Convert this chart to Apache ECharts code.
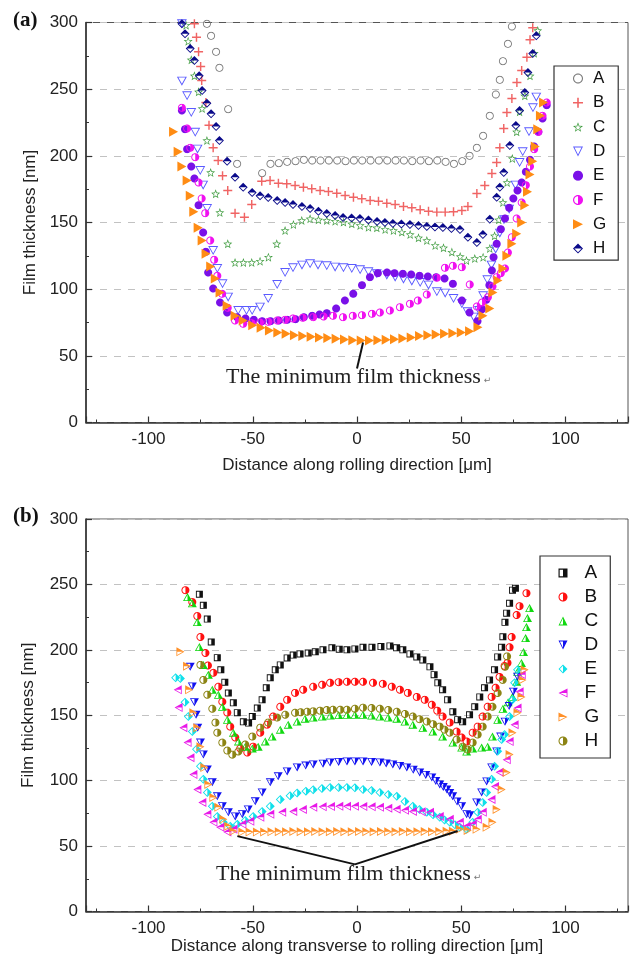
<!DOCTYPE html>
<html>
<head>
<meta charset="utf-8">
<title>Film thickness</title>
<script src="https://cdn.jsdelivr.net/npm/echarts@6/dist/echarts.min.js"></script>
<style>
  html, body { margin: 0; padding: 0; background: #fff; }
  #chart { width: 630px; height: 960px; }
</style>
</head>
<body>
<div id="chart"></div>
<script>
var names = ['A', 'B', 'C', 'D', 'E', 'F', 'G', 'H'];

// (a) along rolling direction: [distance um, film thickness nm]
var rollA = [[-72,299],[-70,290],[-67.6,278],[-66,266],[-61.8,235],[-57.5,194],[-45.5,187],[-41.5,194],[-37.5,194.5],[-33.5,195.5],[-29.5,196],[-25.5,197],[-21.5,196.5],[-17.5,196.5],[-13.5,196.5],[-9.5,196.5],[-5.5,196],[-1.5,196.5],[2.5,196.5],[6.5,196.5],[10.5,196.5],[14.5,196.5],[18.5,196.5],[22.5,196.5],[26.5,196],[30.5,196.5],[34.5,196],[38.5,196.5],[42.5,195.5],[46.5,194],[50.5,196],[54,200],[57.5,206],[60.5,215],[63.7,230],[66.6,246],[68.5,257],[70,271],[72.4,284],[74.3,297]];
var rollB = [[-78,299],[-77,289],[-76,278],[-75,267],[-74.5,256.5],[-72.5,240],[-71,223],[-69,206],[-66.6,196.5],[-64.5,185],[-62,174],[-58.5,157],[-54,154],[-50.5,163.5],[-45.7,181],[-41.7,181.5],[-37.7,179.5],[-33.7,179],[-29.7,177.8],[-25.7,176.5],[-21.7,175.3],[-17.7,174],[-13.7,173.3],[-9.7,172],[-5.7,170.3],[-1.7,169],[2.3,167.8],[6.3,166.5],[10.3,166],[14.3,164.5],[18.3,163.5],[22.3,162],[26.3,161],[30.3,159.5],[34.3,158.5],[38.3,157.8],[42.3,157.8],[46.3,158],[50.3,159],[53.2,162],[57.5,171.8],[61.3,177.8],[64.7,186.8],[67,195],[68.5,206],[70.4,220.5],[71.9,232.5],[74.3,243],[76.7,255],[79,264],[81.5,274],[83,287],[84.3,296]];
var rollC = [[-82,298],[-81,286],[-79.5,272],[-78,260],[-76,248],[-74.3,235.5],[-72,211.5],[-70.2,187.5],[-67.8,171.5],[-65.8,157.5],[-62,134],[-58.5,120],[-54.5,120],[-50.5,120],[-46.5,121],[-42.5,124],[-38.5,134],[-34.5,144],[-30.5,148.5],[-26.5,151.5],[-22.5,152.8],[-18.5,152],[-14.5,151.5],[-10.5,151],[-6.5,150.3],[-2.5,149],[1.5,147.8],[5.5,146.5],[9.5,146],[13.5,144.8],[17.5,144],[21.5,142.8],[25.5,141],[29.5,138.5],[33.5,136.5],[37.5,132.8],[41.5,131],[45.5,127.8],[49.5,124.5],[52.5,121.5],[56.5,123],[60.5,124],[63.7,130.5],[66,140],[68,152],[70,165],[72,180],[74.5,198],[76.6,218],[78,233],[80.5,245],[83,260],[85,277],[86.7,294]];
var rollD = [[-84,299],[-84,256],[-81.5,245],[-79.5,232.5],[-77.6,217.6],[-76.5,205],[-75.2,189],[-73.8,178],[-71.9,160.5],[-69,129],[-67,115.5],[-64.5,104],[-61.8,94],[-57,84],[-53,84],[-50.3,84],[-46.5,86.5],[-42.6,93],[-38.3,103.5],[-34.5,112.5],[-30.7,116],[-26.4,118],[-22.5,119],[-18.7,118],[-14.5,117.5],[-10.5,116.5],[-6.5,116],[-2.5,115.5],[1.5,114.5],[5.5,113],[9.5,111.5],[14.3,110.5],[18.3,109],[22.3,107.5],[26.3,106],[30.3,105],[34.3,103],[38.3,98],[42.3,97],[46.3,93],[50.3,89],[53,83],[56,79],[58.5,84],[60.5,95],[62.5,107],[64.5,118],[66.5,130],[68.5,142],[70.5,152],[73,160],[76,178],[78,195],[79.5,203],[82.5,218],[84.4,236],[86,244]];
var rollE = [[-84,234],[-82.5,220],[-81.5,205],[-79.5,192],[-78,183],[-76,163],[-73.8,142.5],[-72.5,128],[-71.4,112.5],[-69,100.5],[-65.7,90],[-62.3,82.5],[-57.5,79],[-53.5,78],[-49.5,77],[-45.5,76],[-41.5,76],[-37.5,76.5],[-33.5,77],[-29.5,77.5],[-25.5,79],[-21.5,80],[-18,81],[-14.5,82],[-10,85.5],[-5.8,91.5],[-1.8,96.5],[2.4,103],[6.2,109],[10,112],[14.4,112.5],[18,112],[22,111.5],[26,111],[30,110],[34,109.5],[38,109],[42,108],[46,104],[50.3,91.5],[54,82.5],[57.8,76],[60,85],[62,92],[63.5,103],[64.7,114],[65.5,124],[67,134],[69,145],[71,153],[73,161],[75,168],[77,174],[79,180],[81,188],[83,197],[85,207],[87,218],[89,228],[91,238]];
var rollF = [[-84,236],[-81.5,220.5],[-80,206],[-77.6,199],[-76,180],[-74.5,168],[-72.8,157],[-70.4,136.5],[-68.5,122],[-67,110],[-64.7,96.5],[-62,86],[-58.5,76.5],[-54.6,74],[-50.5,74.5],[-46.5,75],[-42.5,75.5],[-38.3,76.5],[-34.5,77],[-30.7,78],[-26,78.5],[-21,79],[-16,79.5],[-11.5,80],[-6.7,79],[-2,80],[2.4,80.5],[7.2,81.5],[11,82.5],[15.8,84],[20.6,86.5],[25.4,89],[29.2,91.5],[33.5,96],[38.3,108.5],[42.2,116],[46,117.5],[50.3,116.5],[54.1,103.5],[57.5,87],[60,90],[62.8,94],[65,102],[67,109],[69,112],[71,115.5],[72.4,127.5],[74.3,139],[76.6,153],[79,165],[81,178],[83,192],[85,205],[87,218],[89,230],[91,240]];
var rollG = [[-88,218],[-85.8,203],[-84,192],[-81.5,181.5],[-80,170],[-78.3,158],[-76.2,146],[-74.3,136.5],[-72.4,126.5],[-70.2,117],[-68,108],[-65.7,97.5],[-62.3,87.5],[-58.5,80],[-54.6,76.5],[-50,73],[-46,71],[-42,69],[-38,67.5],[-34,66.5],[-30,65.5],[-26,64.8],[-22,64.3],[-18,63.8],[-14,63.3],[-10,62.8],[-6,62.2],[-2,61.7],[2,61.5],[6,61.5],[10,61.7],[14,62],[18,62.5],[22,63],[26,63.8],[30,64.8],[34,65.5],[38,66],[42,66.5],[46,67],[50,67.5],[54,68.5],[58,71.5],[60.4,80],[63.7,85.5],[65.2,97.5],[67.6,106.5],[70,115.5],[71.9,125],[74.3,134],[76.6,141.5],[79,150],[80.5,163],[81.8,173],[83,186],[84.3,196],[85.5,207],[86.7,220],[88,230],[89.5,240]];
var rollH = [[-84,299],[-82.5,291.5],[-80,280.5],[-78,271.5],[-75.7,260],[-74.3,249],[-72,239.5],[-70,231.5],[-67.6,222],[-66,211.5],[-62.3,196],[-58.5,184],[-54.6,176.5],[-50.3,172.5],[-46.5,170],[-42.6,168.8],[-38.3,166.5],[-34.5,165],[-30.7,163.5],[-26.4,162],[-22.5,160.5],[-18.5,158.5],[-14.5,156.8],[-10.5,155.3],[-6.7,153.8],[-2.6,153.3],[1.4,153],[5.5,151.8],[9.6,150.8],[13.4,150],[17.2,149.3],[21.3,148.8],[25.4,148.5],[29.5,147.7],[33.5,147],[37.4,146.6],[41.2,146.3],[45.3,145.5],[49.4,144.8],[53.2,139],[57.5,135],[60.4,141],[63.7,152.5],[67,169],[68.5,176.5],[70.4,187.5],[73.3,207.8],[76.2,222.8],[78,234],[80.5,247.5],[82,262.5],[84.3,276.8],[86,290]];

// (b) transverse to rolling direction
var transA = [[-75.6,242.5],[-73.7,234],[-71.8,223.5],[-69.9,206],[-67,194],[-65.3,184.7],[-63.4,175.2],[-61.7,167],[-59.3,159.5],[-57.4,152],[-54.5,145],[-52,144],[-50.2,149],[-47.8,155.5],[-45.5,161.8],[-43.5,171],[-41.6,178.6],[-39.2,184.7],[-36.8,188.5],[-33.5,193.8],[-30.6,196],[-27.3,196.9],[-23.4,197.6],[-20,198.5],[-16.3,200],[-12,201.5],[-8.5,200.5],[-4.8,200],[-1,200.7],[2.9,202],[7.2,202],[11.5,202.5],[15.8,203],[19,201.5],[22,200],[25.4,196.9],[28.7,194.6],[31.6,192.3],[35,187],[37,181],[38.8,174.8],[41.1,169.5],[43.5,161.8],[46,152.7],[48.3,146.6],[50.7,145],[54,150.4],[56.5,156.5],[58.9,164],[61.2,171],[63.6,177],[66,184.7],[67.5,194.6],[69.4,202],[70,210],[71,221],[71.8,228],[73.2,235.6],[74.6,245.6],[76,247]];
var transB = [[-82.3,245.6],[-79,236.5],[-76.6,225.8],[-75.1,209.8],[-72.7,197.6],[-71.5,188],[-68.9,182.4],[-66.5,171.8],[-64.6,160.3],[-62.2,152],[-60.8,141.3],[-58.4,133],[-56,124.6],[-52.6,121.5],[-49.8,126],[-46.4,136.7],[-43.1,142.8],[-40.2,149],[-36.8,156.5],[-33.5,161.8],[-29.7,167.1],[-25.8,169.5],[-21,171.8],[-16.7,173.3],[-12.9,174.8],[-8.8,175.3],[-4.8,175.6],[-1,175.6],[2.9,175.6],[7.7,174.8],[12.4,174],[16.7,171.8],[20.6,169.5],[24.4,167.1],[28.7,164],[32.5,161.8],[35.9,158],[38.5,153.5],[41.1,149],[44.5,144.4],[47.8,137.5],[50.2,133],[52.6,130],[55.5,136.7],[57.9,141.3],[60.3,149],[62.7,156.5],[64.6,164],[66.5,171],[68.4,179.3],[70.8,187.7],[72.2,190],[73.2,202],[74.2,209.8],[76.6,226.6],[78,233.4],[81.3,243.3]];
var transC = [[-81.3,240.3],[-79,235.6],[-76.6,221.2],[-75.6,202.2],[-73.7,188.5],[-71.3,180.9],[-69.4,169.5],[-66.5,165.7],[-64.6,156.5],[-62.2,146.6],[-59.3,136.7],[-56.9,130],[-53.6,126],[-50.2,124.6],[-47.4,126],[-44,130],[-40.7,133.7],[-36.8,139],[-33,142.8],[-28.7,145.2],[-24.9,147.4],[-21,148.2],[-16.7,149],[-12.8,149.8],[-8.8,150.2],[-4.8,150.4],[-1,150.4],[2.9,150.4],[7,149.8],[11,149],[15,148.3],[19.1,147.4],[23,145.2],[26.8,142.8],[31.6,140.5],[36.4,137.5],[41.1,133.7],[46,129.1],[50.2,125.3],[52.6,122.3],[55.5,124.6],[59.8,125.3],[62.7,126],[65,133.7],[67.5,146.6],[70,155],[72.5,160],[74.6,164.1],[76.6,175.6],[77,183.2],[78.9,190],[79.9,198.4],[80.9,209],[81.3,217.4],[81.8,224.3],[82.8,232]];
var transD = [[-80,187],[-79,172],[-78,160],[-77.2,150.4],[-76.4,140.5],[-75.1,129.1],[-73.7,120],[-71.8,108.6],[-69.4,98.7],[-67,88],[-64.6,80.4],[-61.7,75.8],[-58.4,72.7],[-55,74.3],[-52.2,78],[-48.8,84.2],[-45.5,91],[-41.6,98.7],[-37.8,103.3],[-33.5,107.1],[-28.7,110.1],[-24.6,111.5],[-21,112.4],[-16.3,113],[-12.9,113.9],[-8.8,114.3],[-4.8,114.7],[-1,114.7],[2.9,114.7],[7,114.3],[11,113.9],[14,113.2],[17.2,112.4],[20.5,111.3],[23.9,110.1],[27,108.3],[30.1,106.3],[33,104.4],[35.9,102.5],[37.8,99.8],[39.7,97.1],[41.4,95.2],[43.1,93.3],[44.5,90.6],[45.9,88],[48,84],[50.2,80.4],[52.6,74.3],[54.1,73.5],[57.4,83.4],[59.8,91],[62.2,99.4],[64.6,110.1],[67,122.3],[68.9,133.7],[71,145],[73,157],[75,168],[77,179.5]];
var transE = [[-87,178.6],[-84.7,178],[-82.5,160],[-80.9,149],[-79,137.5],[-77,124],[-75.1,111],[-73.7,101],[-71.8,91],[-69.4,80.4],[-67,72.7],[-64.1,68.2],[-60.8,65.2],[-57.4,66.6],[-53.6,69.5],[-49.8,72.7],[-45.5,76.5],[-41.6,80.4],[-36.8,85.7],[-32.1,88.5],[-28.7,90.5],[-24.5,92],[-21,93],[-16.8,94],[-12.9,94.8],[-8.8,94.8],[-4.8,94.8],[-1,94.5],[2.9,93.3],[7,92.5],[11,91],[15,89.5],[19.1,88],[23,84],[26.8,80.4],[30,78],[33.5,75.8],[36.5,74],[39.7,72],[42,70],[44.5,68.2],[47,66.3],[49.3,64.4],[52.6,62.8],[55.5,68.2],[57.9,75.8],[60.3,83.4],[62.2,91],[64.6,101],[66,111],[67.5,122.5],[69.4,131.4],[70.8,135.2],[73.2,149],[74.6,161.8],[75.6,174.8],[77,184.7]];
var transF = [[-86,169.5],[-85.6,155.9],[-83.3,140.5],[-81.3,129.1],[-79.9,117.6],[-78.5,104.7],[-76.6,93.3],[-74.2,83.4],[-71.8,74.3],[-68.9,68.2],[-65.6,64.4],[-62.2,60.7],[-59.3,62.8],[-55,66.6],[-51.2,68.9],[-46.4,72],[-41.6,74.3],[-35.9,75.8],[-30.6,76.5],[-26,78],[-21,79.6],[-16.5,80],[-12.5,80.2],[-8.5,80.4],[-4.8,80.4],[-1,80.4],[3,80.2],[7,80],[11,79.6],[15,79],[19,78.2],[23,77.3],[26.8,76.5],[31,76.2],[35,75.8],[39.7,72.7],[44.5,70.5],[49.3,68.2],[52.6,65.2],[55.5,66.6],[57.9,70.5],[60.3,75.8],[64.5,85.7],[66.2,95.6],[68.4,106.5],[71.8,116],[73.2,129.9],[75.6,142.8],[77,155.5],[78,168],[79,181]];
var transG = [[-84.7,198.5],[-81.5,187.5],[-80.5,169.5],[-78.5,152],[-76.6,140.5],[-75.1,126],[-73.2,110],[-71.3,97.1],[-68.9,87.2],[-66.5,79.6],[-64.1,70.5],[-61.7,65.2],[-59.3,61.3],[-55,60.7],[-51.5,60.7],[-48,60.7],[-44.5,60.8],[-41,60.9],[-37.5,61],[-34,61],[-30.5,61.2],[-27,61],[-23.5,61],[-20,61.2],[-16.5,61],[-13,61],[-9.5,61.2],[-6,61],[-2.5,61],[1,61.2],[4.5,61],[8,61],[11.5,61.2],[15,61],[18.5,61],[22,61.2],[25.5,61],[29,61],[32.5,61.2],[36,61],[39.5,61.2],[43,61.3],[46,61.3],[49.3,62.8],[53.1,62],[57.4,62.8],[62.2,64.4],[65,68.2],[67,78],[69.4,93.3],[71.8,106.3],[73.2,120],[74.6,136.7],[77,151.9],[78.9,164],[79.4,177],[80.4,184.7]];
var transH = [[-75.1,188.5],[-73.7,177],[-71.8,165.7],[-69.4,155],[-67.9,144.4],[-67,136.7],[-64.6,129.1],[-62.2,123],[-59.8,119.9],[-56.9,122.3],[-53.6,127.6],[-50.2,133.7],[-46.4,140.5],[-42.6,144.4],[-38.3,148.2],[-34.4,150.4],[-29.7,151.9],[-27,152.3],[-23.9,152.7],[-21,153],[-17.7,153.5],[-14.5,154],[-11.5,154.2],[-8,154.2],[-4.8,154.2],[-1,155],[2.9,155.8],[7,155.5],[11,155],[15,154],[19.1,152.7],[23,151],[26.8,149],[30,147],[33.5,145.2],[36.5,143.2],[39.7,141.3],[42,139],[44.5,136.7],[47.8,131.4],[50.7,126],[53.1,123.8],[55.5,129.1],[57.9,135.2],[60.3,141.3],[62.7,149],[65,156.5],[67.5,167],[69.9,177],[71,187],[72,195]];

// pointer lines of the annotation, in data units
var pointerA = [[2.9, 60], [0, 40.5]];
var pointerB = [[-57.4, 57.6], [-1, 36], [48.3, 61.5]];

// ---- marker shapes (polygons in a 100x100 box) ----
function circlePts() {
    var p = [];
    for (var i = 0; i < 36; i++) {
        var t = i / 36 * 2 * Math.PI;
        p.push([50 + 50 * Math.cos(t), 50 + 50 * Math.sin(t)]);
    }
    return p;
}
function starPts() {
    var p = [];
    for (var i = 0; i < 10; i++) {
        var r = i % 2 ? 21 : 50;
        var t = (-90 + i * 36) * Math.PI / 180;
        p.push([50 + r * Math.cos(t), 50 + r * Math.sin(t)]);
    }
    return p;
}
var CIRCLE = circlePts();
var STAR = starPts();
var SQUARE = [[0, 0], [100, 0], [100, 100], [0, 100]];
var DIAMOND = [[50, 0], [100, 50], [50, 100], [0, 50]];
var TRI_UP = [[50, 0], [100, 100], [0, 100]];
var TRI_DOWN = [[0, 0], [100, 0], [50, 100]];
var TRI_RIGHT = [[0, 0], [100, 50], [0, 100]];
var TRI_LEFT = [[100, 0], [100, 100], [0, 50]];
var PLUS = [[42, 0], [58, 0], [58, 42], [100, 42], [100, 58], [58, 58], [58, 100], [42, 100], [42, 58], [0, 58], [0, 42], [42, 42]];

function area(p) {
    var s = 0;
    for (var i = 0; i < p.length; i++) {
        var a = p[i], b = p[(i + 1) % p.length];
        s += a[0] * b[1] - b[0] * a[1];
    }
    return s / 2;
}
function cw(p) { return area(p) < 0 ? p.slice().reverse() : p; }
function shrink(p, k) {
    var cx = 0, cy = 0;
    p.forEach(function (q) { cx += q[0]; cy += q[1]; });
    cx /= p.length; cy /= p.length;
    return p.map(function (q) { return [cx + (q[0] - cx) * k, cy + (q[1] - cy) * k]; });
}
function clip(p, f) {
    var out = [];
    for (var i = 0; i < p.length; i++) {
        var a = p[i], b = p[(i + 1) % p.length];
        var da = f(a), db = f(b);
        if (da >= 0) out.push(a);
        if ((da >= 0) !== (db >= 0)) {
            var t = da / (da - db);
            out.push([a[0] + (b[0] - a[0]) * t, a[1] + (b[1] - a[1]) * t]);
        }
    }
    return out;
}
function toPath(p) {
    return 'M' + p.map(function (q) { return q[0].toFixed(1) + ',' + q[1].toFixed(1); }).join(' L') + ' Z';
}
function solid(p) { return 'path://' + toPath(cw(p)); }
function hollow(p, k) {
    p = cw(p);
    return 'path://' + toPath(p) + ' ' + toPath(shrink(p, k).reverse());
}
function half(p, k, f) {
    p = cw(p);
    return 'path://' + toPath(p) + ' ' + toPath(shrink(p, k).reverse()) + ' ' + toPath(clip(p, f));
}
var rightHalf = function (q) { return q[0] - 50; };
var topHalf = function (q) { return 50 - q[1]; };

// ---- series ----
function scatter(prefix, gi, name, data, symbol, size, color) {
    return {
        name: prefix + name,
        type: 'scatter',
        xAxisIndex: gi,
        yAxisIndex: gi,
        data: data,
        symbol: symbol,
        symbolSize: size,
        itemStyle: { color: color, borderWidth: 0, opacity: 1 },
        emphasis: { disabled: true }
    };
}
function pointer(pts) {
    var segs = [];
    for (var i = 0; i < pts.length - 1; i++) {
        segs.push([{ coord: pts[i] }, { coord: pts[i + 1] }]);
    }
    return {
        silent: true,
        symbol: ['none', 'none'],
        label: { show: false },
        lineStyle: { color: '#111', width: 2, type: 'solid' },
        data: segs
    };
}

var series = [
    scatter('a:', 0, 'A', rollA, hollow(CIRCLE, 0.78), 8, '#7a7a7a'),
    scatter('a:', 0, 'B', rollB, solid(PLUS), 9, '#f06464'),
    scatter('a:', 0, 'C', rollC, hollow(STAR, 0.62), 9, '#3c9a3c'),
    scatter('a:', 0, 'D', rollD, hollow(TRI_DOWN, 0.7), [10, 9], '#5a5aff'),
    scatter('a:', 0, 'E', rollE, solid(CIRCLE), 8, '#7a10e8'),
    scatter('a:', 0, 'F', rollF, half(CIRCLE, 0.76, rightHalf), 8, '#f010f0'),
    scatter('a:', 0, 'G', rollG, solid(TRI_RIGHT), [9, 10], '#ff8c14'),
    scatter('a:', 0, 'H', rollH, half(DIAMOND, 0.72, topHalf), 9, '#0a0a8a'),

    scatter('b:', 1, 'A', transA, half(SQUARE, 0.74, rightHalf), 7, '#111111'),
    scatter('b:', 1, 'B', transB, half(CIRCLE, 0.76, rightHalf), 8, '#ff1010'),
    scatter('b:', 1, 'C', transC, half(TRI_UP, 0.7, rightHalf), [9, 8], '#10d810'),
    scatter('b:', 1, 'D', transD, half(TRI_DOWN, 0.7, rightHalf), [9, 8], '#1010f0'),
    scatter('b:', 1, 'E', transE, half(DIAMOND, 0.72, rightHalf), 9, '#10e0ea'),
    scatter('b:', 1, 'F', transF, half(TRI_LEFT, 0.7, topHalf), [8, 9], '#e818e8'),
    scatter('b:', 1, 'G', transG, half(TRI_RIGHT, 0.7, topHalf), [8, 9], '#ff9028'),
    scatter('b:', 1, 'H', transH, half(CIRCLE, 0.76, rightHalf), 8, '#8c8414')
];
series[6].markLine = pointer(pointerA);
series[14].markLine = pointer(pointerB);

var SANS = 'Liberation Sans';
var SERIF = 'Liberation Serif';

function xAxis(gi, name, gap) {
    return {
        type: 'value',
        gridIndex: gi,
        min: -130,
        max: 130,
        name: name,
        nameLocation: 'middle',
        nameGap: gap,
        nameTextStyle: { fontSize: 17, color: '#222', fontFamily: SANS },
        axisLine: { onZero: false, lineStyle: { color: '#333', width: 1.6 } },
        axisTick: { inside: true, length: 6, lineStyle: { color: '#333', width: 1.2 } },
        minorTick: { show: true, splitNumber: 2, length: 3, lineStyle: { color: '#333', width: 1 } },
        axisLabel: { fontSize: 17, color: '#222', margin: 8, fontFamily: SANS, showMinLabel: false, showMaxLabel: false },
        splitLine: { show: false }
    };
}
function yAxis(gi, gap) {
    return {
        type: 'value',
        gridIndex: gi,
        min: 0,
        max: 300,
        interval: 50,
        name: 'Film thickness [nm]',
        nameLocation: 'middle',
        nameGap: gap,
        nameTextStyle: { fontSize: 17, color: '#222', fontFamily: SANS },
        axisLine: { onZero: false, lineStyle: { color: '#333', width: 1.6 } },
        axisTick: { inside: true, length: 6, lineStyle: { color: '#333', width: 1.2 } },
        minorTick: { show: true, splitNumber: 2, length: 3, lineStyle: { color: '#333', width: 1 } },
        axisLabel: { fontSize: 17, color: '#222', margin: 8, fontFamily: SANS },
        splitLine: { show: true, lineStyle: { color: '#c2c2c2', width: 1, type: [7, 7] } }
    };
}
function legend(prefix, left, top, size, gap, fs, textPad, pad) {
    return {
        data: names.map(function (n) { return prefix + n; }),
        formatter: function (n) { return n.slice(2); },
        orient: 'vertical',
        left: left,
        top: top,
        itemWidth: size,
        itemHeight: size,
        itemGap: gap,
        padding: pad,
        selectedMode: false,
        borderColor: '#333',
        borderWidth: 1.2,
        backgroundColor: '#fff',
        textStyle: { fontSize: fs, lineHeight: fs, color: '#111', fontFamily: SANS, padding: [0, 0, 0, textPad] }
    };
}

var minText = 'The minimum film thickness{r|\u21b5}';
var minRich = { r: { fontSize: 9, fontFamily: 'DejaVu Sans', fill: '#777', color: '#777', padding: [8, 0, 0, 3] } };

var myChart = echarts.init(document.getElementById('chart'));
var option = {
    animation: false,
    backgroundColor: '#fff',
    grid: [
        { left: 86, right: 2, top: 22.5, height: 400, show: true, borderColor: '#555', borderWidth: 1, backgroundColor: 'transparent' },
        { left: 86, right: 2, top: 519, height: 392.5, show: true, borderColor: '#555', borderWidth: 1, backgroundColor: 'transparent' }
    ],
    xAxis: [
        xAxis(0, 'Distance along rolling direction [\u03bcm]', 34),
        xAxis(1, 'Distance along transverse to rolling direction [\u03bcm]', 26)
    ],
    yAxis: [yAxis(0, 47), yAxis(1, 49)],
    legend: [
        legend('a:', 554, 66, 10, 7.3, 17, 5, [4, 12, 3, 19]),
        legend('b:', 540, 556, 9, 5, 19, 12, [7.5, 11, 7.5, 18.5])
    ],
    graphic: [
        { type: 'text', left: 13, top: 10, style: { text: '(a)', font: 'bold 21px "Liberation Serif"', fill: '#111' } },
        { type: 'text', left: 13, top: 506, style: { text: '(b)', font: 'bold 21px "Liberation Serif"', fill: '#111' } },
        { type: 'text', x: 226, y: 377, style: { text: minText, rich: minRich, font: '22px "Liberation Serif"', fill: '#222', align: 'left', verticalAlign: 'middle' } },
        { type: 'text', x: 216, y: 874, style: { text: minText, rich: minRich, font: '22px "Liberation Serif"', fill: '#222', align: 'left', verticalAlign: 'middle' } }
    ],
    series: series
};
myChart.setOption(option);
</script>
</body>
</html>
